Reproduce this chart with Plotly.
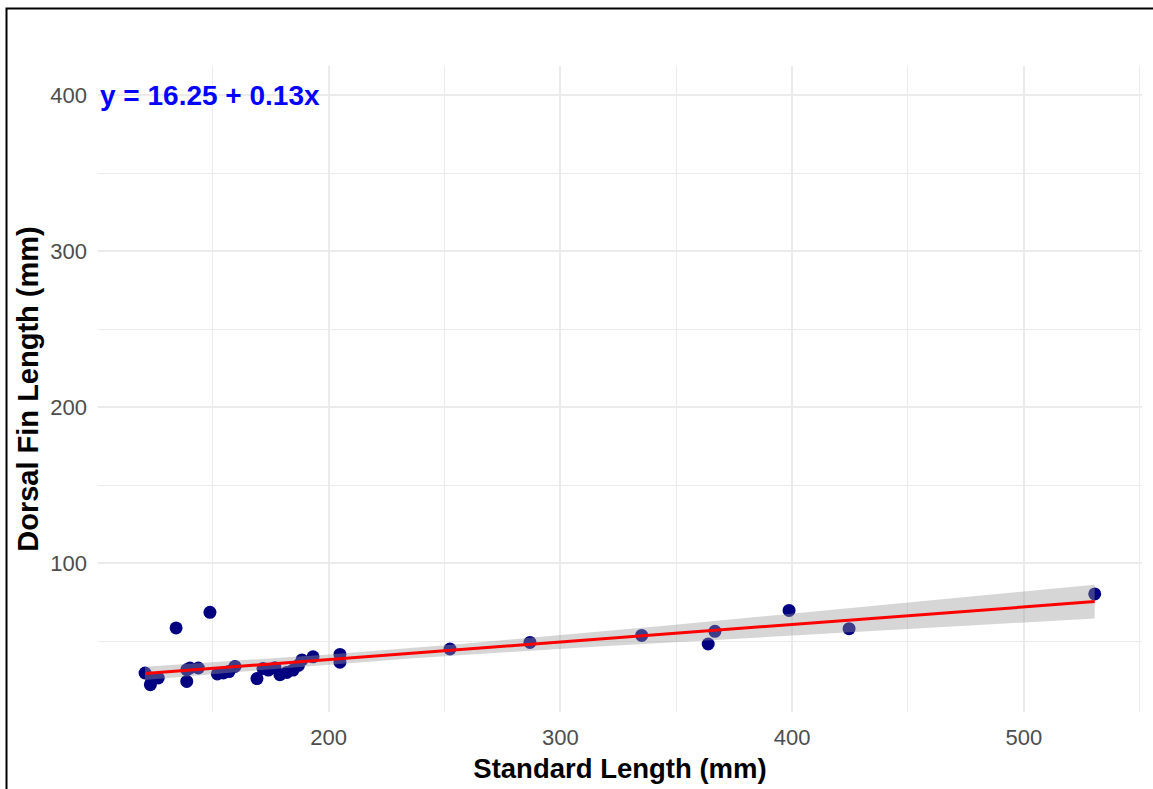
import math
import numpy as np
import plotly.graph_objects as go

# ---- data ----
standard_length = [120.8, 123.1, 123.7, 126.5, 134.2, 138.8, 138.8, 140.2, 143.8, 148.8,
                   152.0, 154.6, 157.0, 159.6, 169.1, 171.7, 174.0, 176.9, 179.0, 182.0,
                   184.7, 187.0, 188.5, 193.3, 204.9, 204.9, 252.4, 286.9, 335.1, 363.8,
                   366.7, 398.7, 424.6, 530.6]
dorsal_fin_length = [29.6, 22.1, 25.3, 26.4, 58.5, 24.2, 31.7, 32.8, 32.8, 68.5,
                     29.0, 29.6, 30.5, 33.8, 26.0, 32.5, 31.5, 33.0, 28.5, 30.0,
                     31.5, 34.5, 38.0, 40.0, 41.5, 36.5, 45.0, 49.2, 53.7, 48.2,
                     56.3, 69.7, 58.0, 80.3]
equation_label = "y = 16.25 + 0.13x"
x_ticks = [200, 300, 400, 500]
y_ticks = [100, 200, 300, 400]

# ---- linear fit with 95% confidence band (like geom_smooth(method="lm")) ----
x = np.array(standard_length)
y = np.array(dorsal_fin_length)
n = len(x)
slope, intercept = np.polyfit(x, y, 1)
resid = y - (intercept + slope * x)
s = math.sqrt(np.sum(resid ** 2) / (n - 2))
xm = x.mean()
sxx = np.sum((x - xm) ** 2)
z = 1.959963985
nu = n - 2
tq = z + (z**3 + z) / (4 * nu) + (5 * z**5 + 16 * z**3 + 3 * z) / (96 * nu**2)
xs = np.linspace(x.min(), x.max(), 80)
yfit = intercept + slope * xs
se = s * np.sqrt(1.0 / n + (xs - xm) ** 2 / sxx)
upper = yfit + tq * se
lower = yfit - tq * se

FONT = "Liberation Sans, Arial, sans-serif"

fig = go.Figure()
fig.add_trace(go.Scatter(x=x, y=y, mode="markers",
                         marker=dict(color="#000080", size=13, line=dict(width=0)),
                         showlegend=False, hoverinfo="x+y"))
fig.add_trace(go.Scatter(x=np.concatenate([xs, xs[::-1]]),
                         y=np.concatenate([upper, lower[::-1]]),
                         fill="toself", fillcolor="rgba(153,153,153,0.4)",
                         line=dict(width=0), mode="lines",
                         showlegend=False, hoverinfo="skip"))
fig.add_trace(go.Scatter(x=xs, y=yfit, mode="lines",
                         line=dict(color="#FF0000", width=3),
                         showlegend=False, hoverinfo="skip"))

W, H = 1153, 789
L, R, T, B = 98, 11, 66, 77
pw, ph = W - L - R, H - T - B

def px(xp):
    return (xp - L) / pw

def py(yp):
    return (H - B - yp) / ph

fig.add_annotation(x=0, xref="paper", y=400, yref="y", text=equation_label,
                   showarrow=False, xanchor="left", yanchor="middle",
                   font=dict(family=FONT, size=28, color="#0000FF", weight="bold"))

# outer black frame of the picture
fig.add_shape(type="rect", xref="paper", yref="paper",
              x0=px(6.5), x1=px(1170), y0=py(8.5), y1=py(810),
              line=dict(color="black", width=2), fillcolor="rgba(0,0,0,0)", layer="above")

grid = "#EBEBEB"
fig.update_layout(
    width=W, height=H,
    margin=dict(l=L, r=R, t=T, b=B, pad=0),
    paper_bgcolor="white", plot_bgcolor="white",
    font=dict(family=FONT),
    xaxis=dict(range=[100.5, 551.0], tickvals=x_ticks, showgrid=True, gridcolor=grid,
               gridwidth=1.6, zeroline=False, showline=False, ticks="",
               tickfont=dict(family=FONT, size=22, color="#4D4D4D"),
               ticklabelstandoff=10,
               minor=dict(dtick=50, tick0=0, showgrid=True, gridcolor=grid, gridwidth=1),
               title=dict(text="Standard Length (mm)", standoff=9,
                          font=dict(family=FONT, size=27.5, color="black", weight="bold"))),
    yaxis=dict(range=[4.6, 418.8], tickvals=y_ticks, showgrid=True, gridcolor=grid,
               gridwidth=1.6, zeroline=False, showline=False, ticks="",
               tickfont=dict(family=FONT, size=22, color="#4D4D4D"),
               ticklabelstandoff=10,
               minor=dict(dtick=50, tick0=0, showgrid=True, gridcolor=grid, gridwidth=1),
               title=dict(text="Dorsal Fin Length (mm)", standoff=3,
                          font=dict(family=FONT, size=29, color="black", weight="bold"))),
)

fig.write_html("out.html")
